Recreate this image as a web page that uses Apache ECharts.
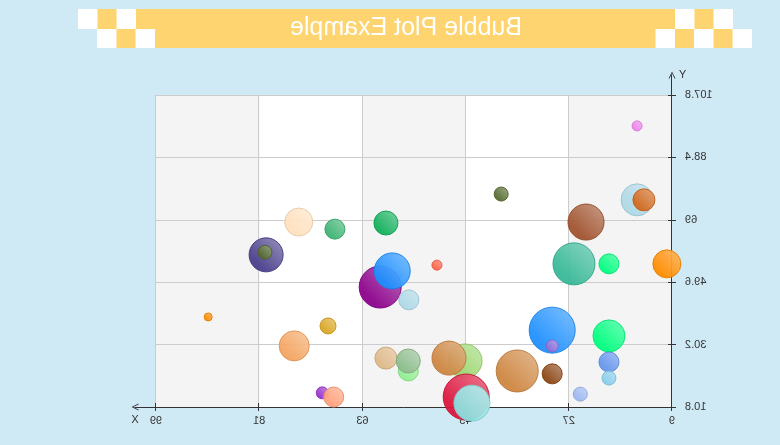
<!DOCTYPE html>
<html><head><meta charset="utf-8">
<script src="https://cdn.jsdelivr.net/npm/echarts@6/dist/echarts.min.js"></script>
<style>
html,body{margin:0;padding:0;background:#d0eaf5;}
#chart{width:780px;height:445px;transform:scaleX(-1);}
</style>
</head><body><div id="chart"></div>
<script>
// ---- data ----
const titleText = 'Bubble Plot Example';
const xTicks = [9, 27, 45, 63, 81, 99];
const yTicks = [10.8, 30.2, 49.6, 69, 88.4, 107.8];
const xName = 'X';
const yName = 'Y';
const xValues = [15.1, 13.9, 15.1, 38.8, 24.0, 26.1, 20.0, 9.9, 74.1, 67.8, 58.9, 79.8, 80.0, 50.0, 59.9, 57.8, 54.9, 89.9, 69.0, 74.9, 29.9, 29.9, 20.0, 20.0, 20.0, 25.0, 29.9, 36.0, 45.1, 47.9, 44.9, 43.9, 58.9, 55.0, 55.0, 70.0, 68.0];
const yValues = [75.2, 75.2, 98.2, 77.0, 68.3, 55.3, 55.3, 55.3, 68.3, 66.1, 68.0, 58.1, 58.9, 54.9, 48.1, 53.1, 44.1, 38.8, 36.0, 29.8, 34.7, 29.8, 32.9, 24.8, 19.8, 14.8, 21.1, 22.0, 25.1, 26.0, 13.9, 12.0, 26.0, 22.0, 25.1, 15.2, 13.9];
const bubbleSizes = [16, 11, 5, 7, 18, 21, 10, 14, 14, 10, 12, 17, 7, 5, 21, 18, 10, 4, 8, 15, 23, 6, 16, 10, 7, 7, 10, 21, 17, 17, 23, 18, 11, 10, 12, 6, 10];
// ---- styles ----
const bubbleColors = ['#add8e6', '#d2691e', '#ee82ee', '#556b2f', '#a0522d', '#36b896', '#00ff7f', '#ff8c00', '#ffe0bd', '#3cb371', '#12b05c', '#483d8b', '#556b2f', '#ff6347', '#8b008b', '#1e90ff', '#add8e6', '#ff8c00', '#daa520', '#f4a460', '#1e90ff', '#9370db', '#00ff7f', '#6495ed', '#87ceeb', '#9db8f0', '#8b4513', '#cd853f', '#9bd770', '#cd853f', '#dc143c', '#8ce0df', '#deb887', '#90ee90', '#8fbc8f', '#9932cc', '#ffa07a'];

function mix(hex, target, t) {
  const n = parseInt(hex.slice(1), 16);
  const r = (n >> 16) & 255, g = (n >> 8) & 255, b = n & 255;
  const f = c => Math.round(c + (target - c) * t);
  return 'rgb(' + f(r) + ',' + f(g) + ',' + f(b) + ')';
}

const chart = echarts.init(document.getElementById('chart'));
const axisColor = '#333';
const labelFont = 'Liberation Sans';
const arrowPath = 'path://M0,10 L5,0 L10,10 L8.6,10 L5,2.6 L1.4,10 Z';

const seriesData = xValues.map((x, i) => ({
  value: [x, yValues[i], bubbleSizes[i]],
  itemStyle: {
    color: new echarts.graphic.LinearGradient(0, 0, 1, 1, [
      {offset: 0, color: mix(bubbleColors[i], 255, 0.4)},
      {offset: 0.75, color: bubbleColors[i]}
    ]),
    borderColor: mix(bubbleColors[i], 0, 0.1),
    borderWidth: 1,
    opacity: 0.94
  }
}));

const bandY1 = 9, bandY2 = 29, bandY3 = 48;
const yellow = '#fdd46f';
const sq = 19.5;
const graphics = [
  {type: 'rect', shape: {x: 47, y: bandY1, width: 655, height: bandY2 - bandY1}, style: {fill: yellow}},
  {type: 'rect', shape: {x: 28, y: bandY2, width: 654, height: bandY3 - bandY2}, style: {fill: yellow}},
];
[47, 85.5, 644, 682.5].forEach(x => graphics.push({type: 'rect', shape: {x: x, y: bandY1, width: sq, height: bandY2 - bandY1}, style: {fill: '#ffffff'}}));
[28, 66.5, 105, 625, 663.5].forEach(x => graphics.push({type: 'rect', shape: {x: x, y: bandY2, width: sq, height: bandY3 - bandY2}, style: {fill: '#ffffff'}}));
graphics.push({type: 'text', x: 374, y: 28, style: {text: titleText, font: '25px "Liberation Sans"', fill: '#ffffff', align: 'center', verticalAlign: 'middle'}});

const xMin = xTicks[0], xMax = xTicks[xTicks.length - 1], xInt = xTicks[1] - xTicks[0];
const yMin = yTicks[0], yMax = yTicks[yTicks.length - 1], yInt = +(yTicks[1] - yTicks[0]).toFixed(1);
const fmt = v => String(+(+v).toFixed(1));

chart.setOption({
  backgroundColor: '#d0eaf5',
  animation: false,
  graphic: graphics,
  grid: [
    {left: 108, right: 156, top: 95, bottom: 38},
    {left: 108, right: 135, top: 75, bottom: 38},
    {left: 108, right: 156, top: 95, bottom: 38}
  ],
  xAxis: [
    {gridIndex: 0, type: 'value', min: xMin, max: xMax, interval: xInt, position: 'bottom', z: 0,
     axisLine: {show: false, onZero: false},
     axisTick: {show: true, length: 4, lineStyle: {color: axisColor}},
     axisLabel: {margin: 8, color: axisColor, fontSize: 11, fontFamily: labelFont, formatter: fmt, showMinLabel: true, showMaxLabel: true},
     splitLine: {show: true, lineStyle: {color: '#cccccc', width: 1}},
     splitArea: {show: true, areaStyle: {color: ['#f4f4f4', '#ffffff']}}},
    {gridIndex: 1, type: 'value', min: 0, max: 1, position: 'bottom', z: 3,
     axisLine: {show: true, onZero: false, lineStyle: {color: axisColor, width: 1}, symbol: ['none', arrowPath], symbolSize: [9, 7]},
     axisTick: {show: false}, axisLabel: {show: false}, splitLine: {show: false},
     name: xName, nameLocation: 'end', nameGap: 0,
     nameTextStyle: {color: axisColor, fontSize: 11, fontFamily: labelFont, align: 'center', verticalAlign: 'top', padding: [7, 0, 0, 0]}},
    {gridIndex: 2, type: 'value', min: xMin, max: xMax, interval: xInt, position: 'bottom', z: 3,
     axisLine: {show: false, onZero: false},
     axisTick: {show: true, inside: true, length: 4, lineStyle: {color: axisColor}},
     axisLabel: {show: false}, splitLine: {show: false}}
  ],
  yAxis: [
    {gridIndex: 0, type: 'value', min: yMin, max: yMax, interval: yInt, position: 'left', z: 1,
     axisLine: {show: false, onZero: false},
     axisTick: {show: true, length: 4, lineStyle: {color: axisColor}},
     axisLabel: {margin: 13, color: axisColor, fontSize: 11, fontFamily: labelFont, formatter: fmt, showMinLabel: true, showMaxLabel: true},
     splitLine: {show: true, lineStyle: {color: '#cccccc', width: 1}},
     splitArea: {show: false}},
    {gridIndex: 1, type: 'value', min: 0, max: 1, position: 'left', z: 3,
     axisLine: {show: true, onZero: false, lineStyle: {color: axisColor, width: 1}, symbol: ['none', arrowPath], symbolSize: [9, 7]},
     axisTick: {show: false}, axisLabel: {show: false}, splitLine: {show: false},
     name: yName, nameLocation: 'end', nameGap: 0,
     nameTextStyle: {color: axisColor, fontSize: 11, fontFamily: labelFont, align: 'right', verticalAlign: 'middle', padding: [0, 7, 0, 0]}},
    {gridIndex: 2, type: 'value', min: yMin, max: yMax, interval: yInt, position: 'left', z: 3,
     axisLine: {show: false, onZero: false},
     axisTick: {show: true, inside: true, length: 4, lineStyle: {color: axisColor}},
     axisLabel: {show: false}, splitLine: {show: false}}
  ],
  series: [{
    type: 'scatter',
    xAxisIndex: 0, yAxisIndex: 0,
    symbol: 'circle',
    symbolSize: v => v[2] * 2,
    data: seriesData,
    z: 5
  }]
});
</script>
</body></html>
